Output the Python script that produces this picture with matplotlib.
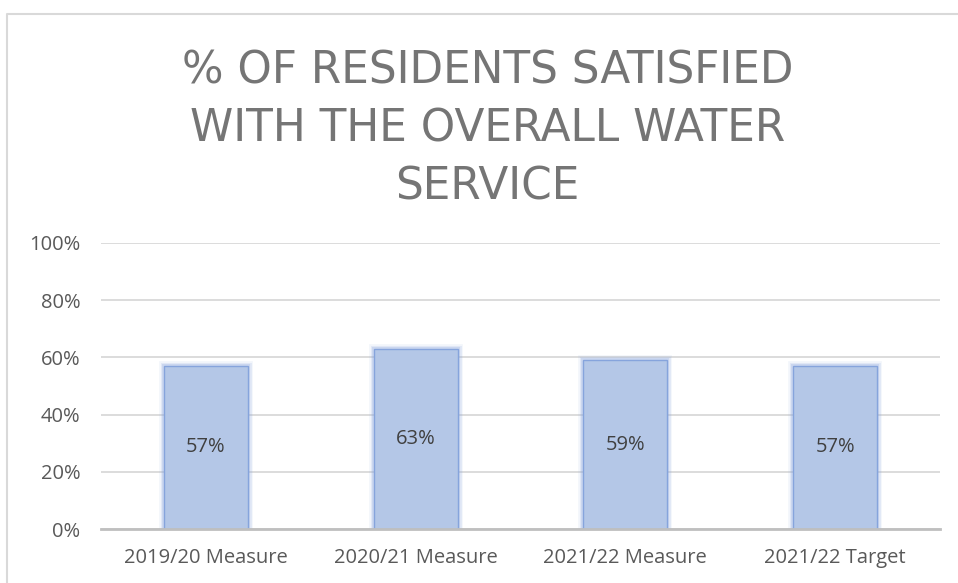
import matplotlib
matplotlib.use("Agg")
import matplotlib.pyplot as plt
from matplotlib.lines import Line2D
from matplotlib.ticker import PercentFormatter

# ── data ──────────────────────────────────────────────────────────────────────
categories = ["2019/20 Measure", "2020/21 Measure", "2021/22 Measure", "2021/22 Target"]
satisfied = [57, 63, 59, 57]
y_ticks = [0, 20, 40, 60, 80, 100]

# ── colours ───────────────────────────────────────────────────────────────────
BAR_FACE = "#b4c7e7"
BAR_EDGE = "#86a4dc"
GRID_COL = "#d9d9d9"
AXIS_COL = "#bfbfbf"
TEXT_COL = "#595959"
TITLE_COL = "#757575"

plt.rcParams["font.family"] = ["Open Sans", "DejaVu Sans"]

fig = plt.figure(figsize=(9.58, 5.83), dpi=100, facecolor="white")
ax = fig.add_axes([0.1054, 0.0926, 0.9812 - 0.1054, 0.5832 - 0.0926])

x = range(len(categories))

# soft glow round the bar edges: a few wide faint strokes, then the fill
for lw, a in [(7, 0.10), (5, 0.15), (3, 0.25)]:
    ax.bar(x, satisfied, width=0.4, color="none", edgecolor=BAR_EDGE,
           linewidth=lw, alpha=a, zorder=2)
bars = ax.bar(x, satisfied, width=0.4, color=BAR_FACE, edgecolor=BAR_EDGE,
              linewidth=1.0, zorder=3)

for b, v in zip(bars, satisfied):
    ax.text(b.get_x() + b.get_width() / 2, v / 2, f"{v}%",
            ha="center", va="center", fontsize=14.5, color="#404040", zorder=4)

ax.set_xlim(-0.5, len(categories) - 0.5)
ax.set_ylim(0, 100)
ax.set_yticks(y_ticks)
ax.yaxis.set_major_formatter(PercentFormatter(decimals=0))
ax.set_xticks(list(x))
ax.set_xticklabels(categories)

ax.grid(axis="y", color=GRID_COL, linewidth=1.3, zorder=0)
ax.set_axisbelow(True)
for side in ("top", "right", "left"):
    ax.spines[side].set_visible(False)
ax.spines["bottom"].set_color(AXIS_COL)
ax.spines["bottom"].set_linewidth(2.0)
ax.spines["bottom"].set_zorder(5)
ax.tick_params(axis="both", length=0, labelsize=14.5, labelcolor=TEXT_COL)
ax.tick_params(axis="y", pad=15)
ax.tick_params(axis="x", pad=14)

fig.text(0.509, 1 - 129 / 583, "% OF RESIDENTS SATISFIED\nWITH THE OVERALL WATER\nSERVICE",
         ha="center", va="center", fontsize=31.5, color=TITLE_COL,
         linespacing=1.43, family=["DejaVu Sans"])

# chart frame (left and top edges)
fx = 7 / 958
fy = 1 - 14 / 583
fig.add_artist(Line2D([fx, fx, 1.0], [0.0, fy, fy], color=GRID_COL,
                      linewidth=1.5, transform=fig.transFigure))

fig.savefig("out.png", dpi=100, facecolor="white")
